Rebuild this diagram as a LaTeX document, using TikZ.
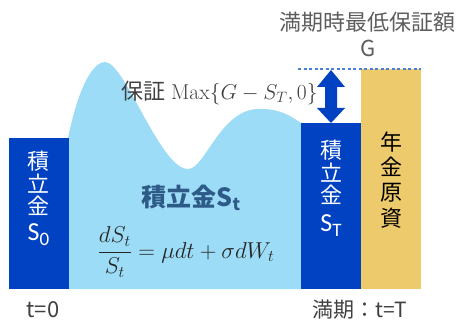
\RequirePackage{fix-cm}
\documentclass[tikz,border=0pt]{standalone}
\usepackage{amsmath}
\usepackage{fontspec}
\newfontfamily\jp{Noto Sans CJK JP}
\newfontfamily\carl{Carlito}
\definecolor{lblue}{HTML}{9CDCF6}
\definecolor{dblue}{HTML}{0042C2}
\definecolor{gold}{HTML}{EDCA6B}
\definecolor{dashc}{HTML}{4A7FD8}
\definecolor{sttl}{HTML}{2E5A88}
\definecolor{lbl}{HTML}{404040}
\tikzset{
  lab/.style={inner sep=0pt, text=lbl, font=\jp\fontsize{21}{24}\selectfont},
  boxch/.style={inner sep=0pt, text=white, font=\jp\fontsize{22}{24}\selectfont},
  goldch/.style={inner sep=0pt, text=black, font=\jp\fontsize{22}{24}\selectfont},
  bigS/.style={inner sep=0pt, text=white, font=\carl\fontsize{26}{28}\selectfont},
}
\begin{document}
\begin{tikzpicture}[x=1pt,y=-1pt]
\useasboundingbox (0,0) rectangle (458,323);
% light blue area
\fill[lblue] (68,289) -- (68,138) .. controls (80,80) and (95,62) .. (105,62)
  .. controls (125,62) and (160,169) .. (188,169)
  .. controls (205,169) and (220,110) .. (258,109)
  .. controls (280,108) and (292,117) .. (301,123) -- (301,289) -- cycle;
% boxes
\fill[dblue] (8.5,138) rectangle (68.5,289);
\fill[dblue] (301,123) rectangle (361,289);
\fill[gold] (361,69) rectangle (421,289);
% dashed line
\coordinate (dl) at (298,69);
\coordinate (dr) at (421,69);
\draw[dashc, line width=1.2pt, dash pattern=on 3pt off 2.5pt] (dl) -- (dr);
% double arrow
\fill[dblue] (331,70) -- (345,87) -- (337,87) -- (337,108) -- (345,108) -- (331,123)
  -- (317,108) -- (325,108) -- (325,87) -- (317,87) -- cycle;
% labels
\node[lab, text=lbl!85] (top) at (367,22) {\fontsize{22}{24}\selectfont 満期時最低保証額};
\node[lab, text=lbl!85] (g) at (368,48) {\fontsize{22}{24}\selectfont G};
\node[lab, anchor=west] (hosho) at (121,93) {\fontsize{22}{24}\selectfont 保証\hspace{6pt}\fontsize{21.5}{24}\selectfont$\mathrm{Max}\{G-S_T,0\}$};
\node[inner sep=0pt, text=sttl, font=\jp\bfseries\fontsize{25}{28}\selectfont] (st) at (191,198) {積立金S\raisebox{-0.3ex}{\fontsize{17}{20}\selectfont t}};
\node[inner sep=0pt, text=black!85, font=\fontsize{23}{26}\selectfont] (eq) at (186,252) {$\dfrac{dS_t}{S_t}=\mu dt+\sigma dW_t$};
\node[lab, font=\jp\fontsize{22}{24}\selectfont] (t0) at (43,310) {t=0};
\node[lab] (tT) at (360,310) {満期：t=T};
% left box
\node[boxch] (l1) at (38.5,161) {積};
\node[boxch] (l2) at (38.5,183.5) {立};
\node[boxch] (l3) at (38.5,206) {金};
\node[bigS] (l4) at (38.5,235) {S\raisebox{-0.4ex}{\fontsize{19}{20}\selectfont 0}};
% right box
\node[boxch] (r1) at (331,150) {積};
\node[boxch] (r2) at (331,172.5) {立};
\node[boxch] (r3) at (331,195) {金};
\node[bigS] (r4) at (331,226) {S\raisebox{-0.4ex}{\fontsize{19}{20}\selectfont T}};
% gold box
\node[goldch] (g1) at (391,142) {年};
\node[goldch] (g2) at (391,167) {金};
\node[goldch] (g3) at (391,193) {原};
\node[goldch] (g4) at (391,218) {資};
\end{tikzpicture}
\end{document}
